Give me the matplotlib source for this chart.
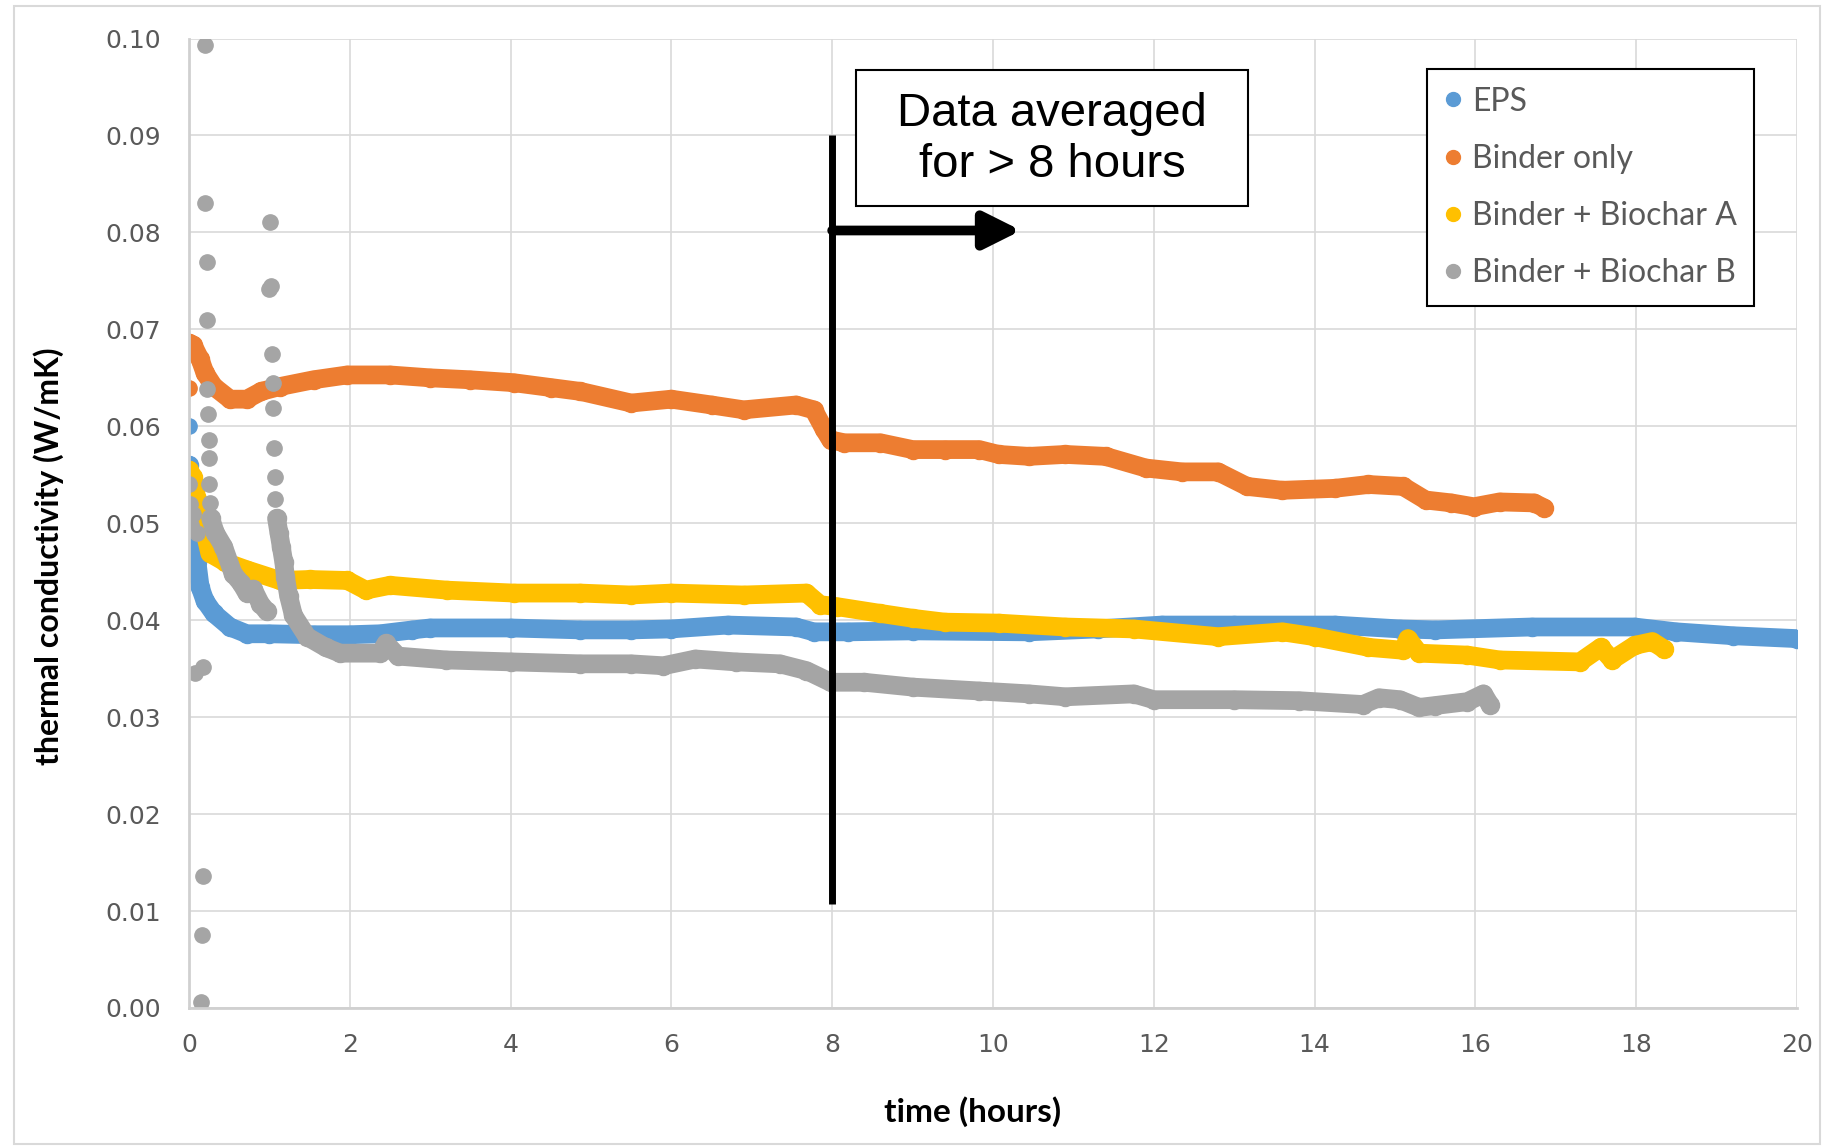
import matplotlib
matplotlib.use('Agg')
import matplotlib.pyplot as plt
from matplotlib.patches import Rectangle

# ---- data (time in hours, k in W/mK) ----
eps_t = [0, 0.01, 0.03, 0.06, 0.1, 0.14, 0.2, 0.31, 0.51, 0.72, 1.0, 1.55, 2.0, 2.38,
         2.78, 3.0, 4.0, 4.87, 5.5, 6.0, 6.7, 7.55, 7.77, 8.2, 9.0, 10.45, 11.3, 12.1,
         13.0, 14.25, 15.06, 15.5, 16.7, 17.98, 18.5, 19.2, 20.0]
eps_k = [0.0560, 0.0530, 0.0505, 0.0486, 0.0460, 0.0434, 0.0420, 0.0407, 0.0393, 0.0386,
         0.0386, 0.0385, 0.0385, 0.0386, 0.0390, 0.0392, 0.0392, 0.0390, 0.0390, 0.0391,
         0.0395, 0.0393, 0.0388, 0.0388, 0.0389, 0.0388, 0.0391, 0.0395, 0.0395, 0.0395,
         0.0391, 0.0390, 0.0393, 0.0393, 0.0388, 0.0384, 0.0381]
eps_extra_t = [0]
eps_extra_k = [0.0600]

binder_t = [0, 0.05, 0.14, 0.2, 0.31, 0.51, 0.72, 0.9, 1.13, 1.55, 1.97, 2.5, 3.0, 3.5,
            4.04, 4.5, 4.87, 5.5, 6.0, 6.5, 6.9, 7.55, 7.77, 7.9, 7.98, 8.15, 8.6, 9.0,
            9.4, 9.83, 10.07, 10.45, 10.9, 11.4, 11.9, 12.35, 12.8, 13.16, 13.6, 14.25,
            14.67, 15.1, 15.38, 15.7, 15.98, 16.3, 16.73, 16.85]
binder_k = [0.0686, 0.0684, 0.0669, 0.0655, 0.0641, 0.0628, 0.0628, 0.0636, 0.0641, 0.0648,
            0.0653, 0.0653, 0.0650, 0.0648, 0.0645, 0.0640, 0.0636, 0.0624, 0.0628, 0.0622,
            0.0617, 0.0622, 0.0617, 0.0597, 0.0586, 0.0583, 0.0583, 0.0576, 0.0576, 0.0576,
            0.0571, 0.0569, 0.0571, 0.0569, 0.0557, 0.0553, 0.0553, 0.0538, 0.0534, 0.0536,
            0.0540, 0.0538, 0.0524, 0.0521, 0.0517, 0.0522, 0.0521, 0.0516]
binder_extra_t = [0]
binder_extra_k = [0.0640]

char_a_t = [0, 0.05, 0.1, 0.2, 0.26, 0.45, 0.72, 1.13, 1.5, 1.97, 2.2, 2.5, 3.21, 4.04,
            4.87, 5.5, 6.0, 6.9, 7.68, 7.85, 8.06, 8.6, 9.0, 9.4, 10.07, 10.9, 11.75, 12.8,
            13.6, 14.0, 14.67, 15.1, 15.16, 15.3, 15.9, 16.3, 17.3, 17.56, 17.7, 17.98,
            18.2, 18.35]
char_a_k = [0.0555, 0.0548, 0.0525, 0.0490, 0.0469, 0.0460, 0.0452, 0.0441, 0.0442, 0.0441,
            0.0431, 0.0436, 0.0431, 0.0428, 0.0428, 0.0426, 0.0428, 0.0426, 0.0428, 0.0416,
            0.0414, 0.0407, 0.0402, 0.0398, 0.0397, 0.0393, 0.0391, 0.0383, 0.0388, 0.0383,
            0.0372, 0.0369, 0.0381, 0.0366, 0.0364, 0.0359, 0.0357, 0.0372, 0.0359, 0.0374,
            0.0378, 0.0370]
char_a_extra_t = [0]
char_a_extra_k = [0.0520]

# Binder + Biochar B: two dense runs plus scattered start-up points
char_b_first_t = [0.27, 0.33, 0.43, 0.55, 0.65, 0.72, 0.8, 0.89, 0.97]
char_b_first_k = [0.0505, 0.0490, 0.0476, 0.0448, 0.0438, 0.0428, 0.0432, 0.0417, 0.0409]
char_b_t = [1.09, 1.12, 1.15, 1.18, 1.2, 1.24, 1.3, 1.47, 1.7, 1.88, 2.38, 2.45, 2.6, 3.2,
            4.0, 4.87, 5.5, 5.9, 6.3, 6.8, 7.35, 7.68, 7.98, 8.4, 9.0, 9.83, 10.45, 10.9,
            11.75, 12.0, 13.0, 13.8, 14.6, 14.8, 15.06, 15.3, 15.5, 15.9, 16.1, 16.18]
char_b_k = [0.0505, 0.0490, 0.0475, 0.0460, 0.0445, 0.0425, 0.0405, 0.0383, 0.0372, 0.0366,
            0.0366, 0.0376, 0.0363, 0.0359, 0.0357, 0.0355, 0.0355, 0.0353, 0.0360, 0.0357,
            0.0355, 0.0348, 0.0336, 0.0336, 0.0331, 0.0327, 0.0324, 0.0321, 0.0324, 0.0318,
            0.0318, 0.0317, 0.0313, 0.0320, 0.0318, 0.0310, 0.0312, 0.0316, 0.0324, 0.0313]
char_b_extra_t = [0.0, 0.01, 0.03, 0.05, 0.1, 0.2, 0.2, 0.23, 0.23, 0.23, 0.24, 0.25,
                  0.25, 0.25, 0.26, 0.07, 0.17, 0.17, 0.16, 0.145, 1.01, 1.0, 1.02,
                  1.03, 1.04, 1.04, 1.06, 1.07, 1.07, 1.08]
char_b_extra_k = [0.0541, 0.0520, 0.0498, 0.0510, 0.0490, 0.0993, 0.0830, 0.0770, 0.0710,
                  0.0639, 0.0613, 0.0586, 0.0567, 0.0541, 0.0521, 0.0346, 0.0352, 0.0136,
                  0.0075, 0.0006, 0.0811, 0.0742, 0.0745, 0.0675, 0.0645, 0.0619, 0.0578,
                  0.0548, 0.0525, 0.0505]

series_names = ['EPS', 'Binder only', 'Binder + Biochar A', 'Binder + Biochar B']
colors = ['#5B9BD5', '#ED7D31', '#FFC000', '#A5A5A5']

x_ticks = [0, 2, 4, 6, 8, 10, 12, 14, 16, 18, 20]
y_ticks = [0.00, 0.01, 0.02, 0.03, 0.04, 0.05, 0.06, 0.07, 0.08, 0.09, 0.10]

# ---- figure ----
fig = plt.figure(figsize=(18.27, 11.47), dpi=100)
ax = fig.add_axes([0.1034, 0.1212, 0.8802, 0.8452])

lw = 13.5
ms = 13


def band(t, k, c, label=None):
    ax.plot(t, k, '-o', color=c, lw=lw, ms=ms, solid_capstyle='round',
            solid_joinstyle='round', label=label)


def dots(t, k, c):
    ax.plot(t, k, 'o', color=c, ms=ms - 2, lw=0)


band(eps_t, eps_k, colors[0])
dots(eps_extra_t, eps_extra_k, colors[0])
band(binder_t, binder_k, colors[1])
dots(binder_extra_t, binder_extra_k, colors[1])
band(char_a_t, char_a_k, colors[2])
dots(char_a_extra_t, char_a_extra_k, colors[2])
band(char_b_first_t, char_b_first_k, colors[3])
band(char_b_t, char_b_k, colors[3])
dots(char_b_extra_t, char_b_extra_k, colors[3])

# legend proxies
handles = [ax.plot([], [], 'o', color=c, ms=10)[0] for c in colors]
leg = ax.legend(handles, series_names, loc='upper left', bbox_to_anchor=(0.770, 0.9685),
                frameon=True, fancybox=False, framealpha=1, edgecolor='black',
                prop={'family': 'Lato', 'size': 23}, labelcolor='#595959',
                handlelength=0.5, handletextpad=0.35, labelspacing=0.85,
                borderpad=0.55, borderaxespad=0)
leg.get_frame().set_linewidth(1.5)
leg.set_zorder(10)

ax.set_xlim(0, 20)
ax.set_ylim(0, 0.10)
ax.set_xticks(x_ticks)
ax.set_yticks(y_ticks)
ax.set_yticklabels([f'{v:.2f}' for v in y_ticks])
ax.tick_params(length=0, labelsize=18, labelcolor='#595959')
ax.tick_params(axis='y', pad=20)
ax.tick_params(axis='x', pad=18)
ax.grid(True, color='#d9d9d9', lw=1.2)
ax.set_axisbelow(True)
for s in ['top', 'right']:
    ax.spines[s].set_visible(False)
for s in ['left', 'bottom']:
    ax.spines[s].set_color('#d0d0d0')
    ax.spines[s].set_linewidth(2)

# annotation: 8 h marker, arrow and box
ax.plot([8, 8], [0.0107, 0.0901], color='black', lw=5, solid_capstyle='butt', zorder=8)
ax.annotate('', xy=(10.35, 0.0802), xytext=(8, 0.0802),
            arrowprops=dict(arrowstyle='-|>', lw=7, color='black', mutation_scale=55,
                            shrinkA=0, shrinkB=0), zorder=8)
ax.add_patch(Rectangle((8.30, 0.08274), 4.87, 0.01401, facecolor='white',
                       edgecolor='black', lw=1.5, zorder=9))
ax.text(10.735, 0.0896, 'Data averaged\nfor > 8 hours', ha='center', va='center',
        fontsize=34, family='Liberation Sans', color='black', zorder=10)

fig.text(49 / 1827, 1 - 556 / 1147, 'thermal conductivity (W/mK)', rotation=90,
         ha='center', va='center', fontsize=23, fontweight='bold', family='Lato')
fig.text(973 / 1827, 1 - 1112 / 1147, 'time (hours)', ha='center', va='center',
         fontsize=24, fontweight='bold', family='Lato')

# chart area border
fig.add_artist(Rectangle((14 / 1827, 3 / 1147), 1806 / 1827, 1138 / 1147,
                         transform=fig.transFigure, fill=False, edgecolor='#d9d9d9', lw=1.5))

fig.savefig('out.png', dpi=100)
